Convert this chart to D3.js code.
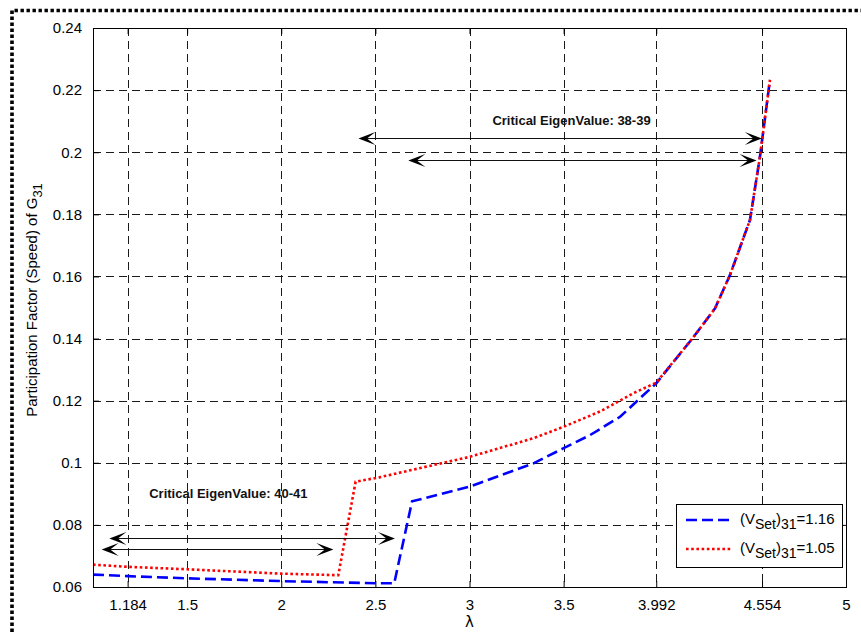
<!DOCTYPE html>
<html>
<head>
<meta charset="utf-8">
<script src="https://cdn.jsdelivr.net/npm/d3@7/dist/d3.min.js"></script>
<style>
  html, body { margin: 0; padding: 0; background: #fff; }
  svg { display: block; font-family: "Liberation Sans", Arial, Helvetica, sans-serif; }
</style>
</head>
<body>
<svg id="chart" width="861" height="633"></svg>
<script>
// Loading parameter λ and participation factor of the G31 speed state
const lambdaVset116 = [1.0, 1.184, 1.5, 2.0, 2.5, 2.6, 2.695, 3.0, 3.34, 3.5, 3.64, 3.8, 3.906, 3.992, 4.185, 4.304, 4.384, 4.49, 4.543, 4.596];
const pfVset116     = [0.0640, 0.0635, 0.0628, 0.0619, 0.0612, 0.0612, 0.0876, 0.0923, 0.0998, 0.1047, 0.1089, 0.1148, 0.1208, 0.1256, 0.1401, 0.1497, 0.1605, 0.1782, 0.1986, 0.2233];

const lambdaVset105 = [1.0, 1.184, 1.5, 2.0, 2.303, 2.395, 2.52, 3.0, 3.34, 3.5, 3.693, 3.87, 3.992, 4.185, 4.304, 4.384, 4.49, 4.543, 4.596];
const pfVset105     = [0.0672, 0.0665, 0.0657, 0.0643, 0.0638, 0.0939, 0.0953, 0.1019, 0.1079, 0.1116, 0.1165, 0.1224, 0.1258, 0.1401, 0.1497, 0.1605, 0.1782, 0.1986, 0.2233];

const xTicks = [1.184, 1.5, 2, 2.5, 3, 3.5, 3.992, 4.554, 5];
const xTickLabels = ["1.184", "1.5", "2", "2.5", "3", "3.5", "3.992", "4.554", "5"];
const yTicks = [0.06, 0.08, 0.1, 0.12, 0.14, 0.16, 0.18, 0.2, 0.22, 0.24];
const yTickLabels = ["0.06", "0.08", "0.1", "0.12", "0.14", "0.16", "0.18", "0.2", "0.22", "0.24"];

// Annotation text (centre position in data units) and double-headed arrows
const noteTexts = ["Critical EigenValue: 38-39", "Critical EigenValue: 40-41"];
const noteX = [3.542, 1.719];
const noteY = [0.2101, 0.0902];
const arrowFrom = [2.41, 2.675, 1.087, 1.046];
const arrowTo   = [4.553, 4.525, 2.604, 2.277];
const arrowAt   = [0.2045, 0.1975, 0.0757, 0.0721];

const svg = d3.select("#chart");
const W = 861, H = 633;
const plot = { left: 93, top: 28, right: 846, bottom: 587 };

const x = d3.scaleLinear().domain([1, 5]).range([plot.left, plot.right]);
const y = d3.scaleLinear().domain([0.06, 0.24]).range([plot.bottom, plot.top]);

svg.append("rect").attr("width", W).attr("height", H).attr("fill", "#fff");

// dotted frame around the figure (left and top edges)
svg.append("path")
  .attr("d", `M12,${H + 5} V10.5 H861`)
  .attr("fill", "none")
  .attr("stroke", "#000")
  .attr("stroke-width", 3.6)
  .attr("stroke-dasharray", "3.4,2.6");

// grid
const grid = svg.append("g").attr("shape-rendering", "crispEdges");
grid.selectAll("line.vx").data(xTicks.filter(d => d > 1 && d < 5)).join("line")
  .attr("x1", d => Math.round(x(d)) + 0.5).attr("x2", d => Math.round(x(d)) + 0.5)
  .attr("y1", plot.top).attr("y2", plot.bottom)
  .attr("stroke", "#1a1a1a").attr("stroke-width", 1).attr("stroke-dasharray", "8,5");
grid.selectAll("line.hy").data(yTicks.filter(d => d > 0.06 && d < 0.24)).join("line")
  .attr("y1", d => Math.round(y(d)) + 0.5).attr("y2", d => Math.round(y(d)) + 0.5)
  .attr("x1", plot.left).attr("x2", plot.right)
  .attr("stroke", "#1a1a1a").attr("stroke-width", 1).attr("stroke-dasharray", "8,5");

// axes (ticks inward on all four sides)
const tickLen = 6;
const axBottom = d3.axisBottom(x).tickValues(xTicks).tickFormat((d, i) => xTickLabels[i]).tickSizeInner(-tickLen).tickSizeOuter(0).tickPadding(12);
const axTop = d3.axisTop(x).tickValues(xTicks).tickFormat("").tickSizeInner(-tickLen).tickSizeOuter(0);
const axLeft = d3.axisLeft(y).tickValues(yTicks).tickFormat((d, i) => yTickLabels[i]).tickSizeInner(-tickLen).tickSizeOuter(0).tickPadding(11);
const axRight = d3.axisRight(y).tickValues(yTicks).tickFormat("").tickSizeInner(-tickLen).tickSizeOuter(0);

function styleAxis(g) {
  g.select(".domain").remove();
  g.selectAll(".tick line").attr("stroke", "#000");
  g.selectAll(".tick text").attr("fill", "#000").attr("font-size", 15)
    .attr("font-family", "'Liberation Sans', Arial, sans-serif");
}
svg.append("g").attr("transform", `translate(0,${plot.bottom})`).call(axBottom).call(styleAxis);
svg.append("g").attr("transform", `translate(0,${plot.top})`).call(axTop).call(styleAxis);
svg.append("g").attr("transform", `translate(${plot.left},0)`).call(axLeft).call(styleAxis);
svg.append("g").attr("transform", `translate(${plot.right},0)`).call(axRight).call(styleAxis);

// series
const line = d3.line().x(d => x(d[0])).y(d => y(d[1]));
const seriesHigh = lambdaVset116.map((l, i) => [l, pfVset116[i]]);
const seriesLow = lambdaVset105.map((l, i) => [l, pfVset105[i]]);

svg.append("path").datum(seriesHigh).attr("d", line)
  .attr("fill", "none").attr("stroke", "#0000ff").attr("stroke-width", 2.6)
  .attr("stroke-dasharray", "11,5");
svg.append("path").datum(seriesLow).attr("d", line)
  .attr("fill", "none").attr("stroke", "#ff0000").attr("stroke-width", 2.6)
  .attr("stroke-dasharray", "2.6,2.6");

// plot box
svg.append("rect")
  .attr("x", plot.left + 0.5).attr("y", plot.top + 0.5)
  .attr("width", plot.right - plot.left).attr("height", plot.bottom - plot.top)
  .attr("fill", "none").attr("stroke", "#000").attr("stroke-width", 1)
  .attr("shape-rendering", "crispEdges");

// annotations
const notes = svg.append("g");
noteTexts.forEach((t, i) => {
  notes.append("text")
    .attr("x", x(noteX[i])).attr("y", y(noteY[i]))
    .attr("text-anchor", "middle").attr("dominant-baseline", "central")
    .attr("font-size", 13).attr("font-weight", "bold").attr("fill", "#111")
    .text(t);
});

function headPath(tipX, tipY, dir) {
  const L = 17, Wd = 6.5, N = 8.5;
  return `M${tipX},${tipY} L${tipX - dir * L},${tipY - Wd} L${tipX - dir * N},${tipY} L${tipX - dir * L},${tipY + Wd} Z`;
}
arrowFrom.forEach((a, i) => {
  const x0 = x(a), x1 = x(arrowTo[i]), yy = Math.round(y(arrowAt[i])) + 0.5;
  notes.append("line").attr("x1", x0 + 8).attr("x2", x1 - 8).attr("y1", yy).attr("y2", yy)
    .attr("stroke", "#111").attr("stroke-width", 1.2);
  notes.append("path").attr("d", headPath(x0, yy, -1)).attr("fill", "#000");
  notes.append("path").attr("d", headPath(x1, yy, 1)).attr("fill", "#000");
});

// axis titles
svg.append("text")
  .attr("x", x(3)).attr("y", 627)
  .attr("text-anchor", "middle").attr("font-size", 15).attr("fill", "#000")
  .attr("font-family", "'DejaVu Sans', sans-serif")
  .text("λ");

const yl = svg.append("text")
  .attr("transform", `translate(37,300) rotate(-90)`)
  .attr("text-anchor", "middle").attr("font-size", 15).attr("fill", "#000");
yl.append("tspan").text("Participation Factor (Speed) of G");
yl.append("tspan").attr("dy", 5).attr("font-size", 13).text("31");

// legend
const legendItems = [
  { val: "=1.16", color: "#0000ff", dash: "11,5" },
  { val: "=1.05", color: "#ff0000", dash: "2.6,2.6" }
];
const lg = svg.append("g");
lg.append("rect").attr("x", 676.5).attr("y", 504.5).attr("width", 166).attr("height", 63)
  .attr("fill", "#fff").attr("stroke", "#000").attr("stroke-width", 1).attr("shape-rendering", "crispEdges");
legendItems.forEach((d, i) => {
  const cy = 520 + i * 29;
  lg.append("line").attr("x1", 686).attr("x2", 732).attr("y1", cy).attr("y2", cy)
    .attr("stroke", d.color).attr("stroke-width", 2.6).attr("stroke-dasharray", d.dash);
  const t = lg.append("text").attr("x", 740).attr("y", cy + 4).attr("font-size", 15).attr("fill", "#000");
  t.append("tspan").text("(V");
  t.append("tspan").attr("dy", 5).attr("font-size", 14).text("Set");
  t.append("tspan").attr("dy", -5).text(")");
  t.append("tspan").attr("dy", 5).attr("font-size", 14).text("31");
  t.append("tspan").attr("dy", -5).text(d.val);
});
</script>
</body>
</html>
